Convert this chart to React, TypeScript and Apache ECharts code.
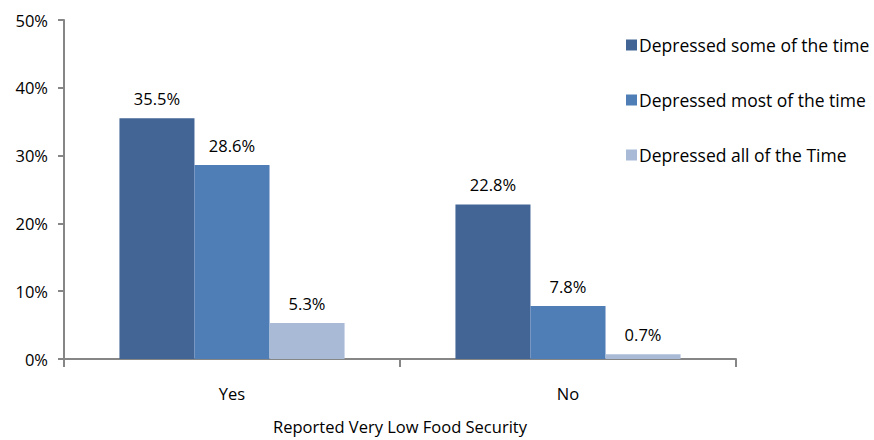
import React, { useEffect, useRef } from "react";
import * as echarts from "echarts";

const categories = ["Yes", "No"];
const seriesNames = [
  "Depressed some of the time",
  "Depressed most of the time",
  "Depressed all of the Time",
];
const someValues = [35.5, 22.8];
const mostValues = [28.6, 7.8];
const allValues = [5.3, 0.7];
const colors = ["#426596", "#4F7DB6", "#A9BAD6"];
const FONT = "Open Sans";
const FS = 16.5;

export default function App() {
  const ref = useRef<HTMLDivElement>(null);
  useEffect(() => {
    if (!ref.current) return;
    const chart = echarts.init(ref.current, undefined, { renderer: "svg" });
    const data = [someValues, mostValues, allValues];
    chart.setOption({
      animation: false,
      textStyle: { fontFamily: FONT },
      grid: { left: 64, right: 138, top: 20, bottom: 68, containLabel: false },
      legend: {
        orient: "vertical",
        left: 621,
        top: 31,
        itemGap: 37,
        itemWidth: 11,
        itemHeight: 11,
        icon: "rect",
        textStyle: { fontFamily: FONT, fontSize: 17.5, color: "#000", padding: [0, 0, 0, -3] },
        data: seriesNames,
      },
      xAxis: {
        type: "category",
        data: categories,
        name: "Reported Very Low Food Security",
        nameLocation: "middle",
        nameGap: 59,
        nameTextStyle: { fontFamily: FONT, fontSize: FS, color: "#000" },
        axisLine: { lineStyle: { color: "#868686", width: 2 } },
        axisTick: { show: true, length: 8, lineStyle: { color: "#868686", width: 2 } },
        axisLabel: { fontFamily: FONT, fontSize: FS, color: "#000", margin: 26 },
      },
      yAxis: {
        type: "value",
        min: 0,
        max: 50,
        interval: 10,
        axisLine: { show: true, lineStyle: { color: "#868686", width: 2 } },
        axisTick: { show: true, length: 6, lineStyle: { color: "#868686", width: 2 } },
        splitLine: { show: false },
        axisLabel: { fontFamily: FONT, fontSize: FS, color: "#000", margin: 16, formatter: "{value}%" },
      },
      series: seriesNames.map((name, i) => ({
        name,
        type: "bar",
        data: data[i],
        barGap: "0%",
        barCategoryGap: "33%",
        itemStyle: { color: colors[i] },
        label: {
          show: true,
          position: "top",
          distance: 11,
          fontFamily: FONT,
          fontSize: FS,
          color: "#000",
          formatter: (p: any) => p.value.toFixed(1) + "%",
        },
      })),
    });
    return () => chart.dispose();
  }, []);
  return (
    <div
      ref={ref}
      style={{ position: "fixed", left: 0, top: 0, width: 874, height: 440, background: "#fff" }}
    />
  );
}
